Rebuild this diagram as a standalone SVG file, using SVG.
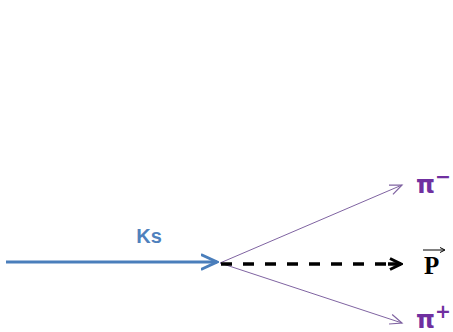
<svg xmlns="http://www.w3.org/2000/svg" width="453" height="332" viewBox="0 0 453 332">
<defs>
<style>
.blue{stroke:#4A7EBB;stroke-width:3;fill:none}
.pur{stroke:#8064A2;stroke-width:1;fill:none}
.dash{stroke:#000;stroke-width:3.5;fill:none;stroke-dasharray:11 11}
.lbl{font-family:"Liberation Sans",Arial,sans-serif;font-weight:bold}
.pi{fill:#7030A0;font-family:"DejaVu Sans","Liberation Sans",sans-serif;font-weight:bold}
</style>
<marker id="mBlue" viewBox="-16 -9 18 18" refX="0" refY="0" markerWidth="18" markerHeight="18" markerUnits="userSpaceOnUse" orient="auto">
<path d="M-15,-7 L0,0 L-15,7" fill="none" stroke="#4A7EBB" stroke-width="3" stroke-linecap="round"/>
</marker>
<marker id="mPur" viewBox="-14 -8 16 16" refX="0" refY="0" markerWidth="16" markerHeight="16" markerUnits="userSpaceOnUse" orient="auto">
<path d="M-12,-5 L0,0 L-12,5" fill="none" stroke="#8064A2" stroke-width="1.2"/>
</marker>
<marker id="mBlack" viewBox="-14 -8 16 16" refX="0" refY="0" markerWidth="16" markerHeight="16" markerUnits="userSpaceOnUse" orient="auto">
<path d="M-11,-5.5 L0,0 L-11,5.5" fill="none" stroke="#000" stroke-width="3"/>
</marker>
</defs>
<g id="connectors">
<line class="blue" x1="6" y1="262" x2="217" y2="262" marker-end="url(#mBlue)"/>
<line class="pur" x1="220" y1="263" x2="402" y2="185" marker-end="url(#mPur)"/>
<line class="pur" x1="220" y1="263" x2="402" y2="323" marker-end="url(#mPur)"/>
<line class="dash" x1="221" y1="264" x2="390" y2="264"/>
<line x1="388" y1="264" x2="401" y2="264" stroke="#000" stroke-width="3.5" marker-end="url(#mBlack)"/>
</g>
<g id="ks">
<text class="lbl" x="149" y="243" font-size="20" fill="#4F81BD" text-anchor="middle">Ks</text>
</g>
<g id="pi-minus">
<text class="pi" x="416" y="193" font-size="24">π<tspan font-size="19" dy="-10">−</tspan></text>
</g>
<g id="p-vector">
<text x="424" y="274" font-family="'Liberation Serif','Times New Roman',serif" font-weight="bold" font-size="25" fill="#000">P</text>
<line x1="423" y1="250" x2="444" y2="250" stroke="#000" stroke-width="1"/>
<path d="M440,247.5 L445,250 L440,252.5" fill="none" stroke="#000" stroke-width="1"/>
</g>
<g id="pi-plus">
<text class="pi" x="416" y="328" font-size="24">π<tspan font-size="19" dy="-10">+</tspan></text>
</g>
</svg>
